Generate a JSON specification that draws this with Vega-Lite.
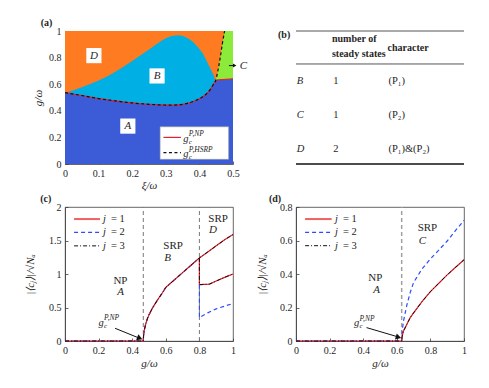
{
"$schema": "https://vega.github.io/schema/vega-lite/v6.json",
"background": "white",
"padding": {"left": 23, "top": 18, "right": 5, "bottom": 5},
"columns": 2,
"spacing": {"row": 43, "column": 63},
"bounds": "flush",
"config": {
  "font": "Liberation Serif",
  "view": {"stroke": null},
  "axis": {"grid": false, "labelFont": "Liberation Serif", "titleFont": "Liberation Serif", "labelFontSize": 10, "titleFontSize": 11, "titleFontWeight": "normal", "titleFontStyle": "italic", "labelColor": "#262626", "titleColor": "#262626", "domainColor": "#404040", "tickColor": "#404040", "tickSize": -3, "labelPadding": 7, "domainWidth": 0.8, "tickWidth": 0.8, "labelFlush": false, "labelOverlap": false, "titleBaseline": "middle", "titleAlign": "center"},
  "text": {"font": "Liberation Serif", "color": "#262626"}
},
"datasets": {
  "aBg": [{"x": 0, "x2": 0.5, "y": 0, "y2": 1}],
  "aCyan": [{"x":0,"y":0.536,"y2":0.536},{"x":0.05,"y":0.578,"y2":0.515},{"x":0.1,"y":0.628,"y2":0.492},{"x":0.15,"y":0.694,"y2":0.474},{"x":0.2,"y":0.775,"y2":0.459},{"x":0.25,"y":0.86,"y2":0.449},{"x":0.285,"y":0.922,"y2":0.444},{"x":0.315,"y":0.96,"y2":0.443},{"x":0.339,"y":0.968,"y2":0.445},{"x":0.364,"y":0.947,"y2":0.456},{"x":0.389,"y":0.897,"y2":0.478},{"x":0.41,"y":0.83,"y2":0.505},{"x":0.425,"y":0.757,"y2":0.538},{"x":0.435,"y":0.705,"y2":0.57},{"x":0.443,"y":0.662,"y2":0.605},{"x":0.448,"y":0.624,"y2":0.624}],
  "aGreen": [{"x":0.448,"y":0.624,"y2":0.624},{"x":0.455,"y":0.7,"y2":0.632},{"x":0.462,"y":0.8,"y2":0.633},{"x":0.468,"y":0.9,"y2":0.634},{"x":0.475,"y":1,"y2":0.635},{"x":0.5,"y":1,"y2":0.641}],
  "aLower": [{"x":0,"y":0.536},{"x":0.05,"y":0.515},{"x":0.1,"y":0.492},{"x":0.15,"y":0.474},{"x":0.2,"y":0.459},{"x":0.25,"y":0.449},{"x":0.285,"y":0.444},{"x":0.315,"y":0.443},{"x":0.339,"y":0.445},{"x":0.364,"y":0.456},{"x":0.389,"y":0.478},{"x":0.41,"y":0.505},{"x":0.425,"y":0.538},{"x":0.435,"y":0.57},{"x":0.443,"y":0.605},{"x":0.448,"y":0.624},{"x":0.455,"y":0.632},{"x":0.47,"y":0.635},{"x":0.5,"y":0.641}],
  "aBlack": [{"x":0,"y":0.536},{"x":0.05,"y":0.515},{"x":0.1,"y":0.492},{"x":0.15,"y":0.474},{"x":0.2,"y":0.459},{"x":0.25,"y":0.449},{"x":0.285,"y":0.444},{"x":0.315,"y":0.443},{"x":0.339,"y":0.445},{"x":0.364,"y":0.456},{"x":0.389,"y":0.478},{"x":0.41,"y":0.505},{"x":0.425,"y":0.538},{"x":0.435,"y":0.57},{"x":0.443,"y":0.605},{"x":0.448,"y":0.624},{"x":0.455,"y":0.7},{"x":0.462,"y":0.8},{"x":0.468,"y":0.9},{"x":0.475,"y":1}],
  "aBoxes": [{"x":0.086,"y":0.815,"t":"D"},{"x":0.274,"y":0.662,"t":"B"},{"x":0.187,"y":0.285,"t":"A"}],
  "aLegBox": [{"x":0.283,"x2":0.487,"y":0.035,"y2":0.28}],
  "aLegLines": [{"x":0.293,"x2":0.345,"y":0.2,"s":"NP"},{"x":0.293,"x2":0.345,"y":0.085,"s":"HSRP"}],
  "aLegText": [{"x":0.352,"y":0.19,"g":"g","sub":"c","sup":"P,NP"},{"x":0.352,"y":0.075,"g":"g","sub":"c","sup":"P,HSRP"}],
  "aArrow": [{"x":0.488,"x2":0.503,"y":0.74}],
  "aArrowHead": [{"x":0.505,"y":0.74}],
  "aC": [{"x":0.52,"y":0.735,"t":"C"}],
  "aLab": [{"x":-0.055,"y":1.06,"t":"(a)"}],
  "bThin": [{"x":0,"x2":1,"y":1},{"x":0,"x2":1,"y":0.752}],
  "bThick": [{"x":0,"x2":1,"y":0}],
  "bItal": [{"x":0.004,"y":0.624,"t":"B"},{"x":0.004,"y":0.368,"t":"C"},{"x":0.004,"y":0.113,"t":"D"}],
  "bNorm": [{"x":0.222,"y":0.624,"t":"1"},{"x":0.222,"y":0.368,"t":"1"},{"x":0.222,"y":0.113,"t":"2"},{"x":0.55,"y":0.624,"t":"(P₁)"},{"x":0.55,"y":0.368,"t":"(P₂)"},{"x":0.55,"y":0.113,"t":"(P₁)&(P₂)"}],
  "bHead": [{"x":0.214,"y":0.938,"t":"number of"},{"x":0.214,"y":0.825,"t":"steady states"},{"x":0.545,"y":0.874,"t":"character"},{"x":-0.107,"y":0.97,"t":"(b)"}],
  "cV": [{"x":0.466,"y":0,"y2":2},{"x":0.8,"y":0,"y2":2}],
  "c13": [{"b":1,"k":0,"x":0,"y":0},{"b":1,"k":1,"x":0.466,"y":0},{"b":1,"k":2,"x":0.468,"y":0.09},{"b":1,"k":3,"x":0.472,"y":0.16},{"b":1,"k":4,"x":0.48,"y":0.25},{"b":1,"k":5,"x":0.49,"y":0.33},{"b":1,"k":6,"x":0.5,"y":0.39},{"b":1,"k":7,"x":0.52,"y":0.49},{"b":1,"k":8,"x":0.55,"y":0.61},{"b":1,"k":9,"x":0.58,"y":0.72},{"b":1,"k":10,"x":0.6,"y":0.8},{"b":1,"k":11,"x":0.65,"y":0.91},{"b":1,"k":12,"x":0.7,"y":1.02},{"b":1,"k":13,"x":0.75,"y":1.13},{"b":1,"k":14,"x":0.8,"y":1.24},{"b":1,"k":15,"x":0.85,"y":1.33},{"b":1,"k":16,"x":0.9,"y":1.42},{"b":1,"k":17,"x":0.95,"y":1.51},{"b":1,"k":18,"x":1,"y":1.59},{"b":2,"k":0,"x":0.8,"y":1.24},{"b":2,"k":1,"x":0.8,"y":0.84},{"b":2,"k":2,"x":0.86,"y":0.85},{"b":2,"k":3,"x":0.9,"y":0.895},{"b":2,"k":4,"x":0.95,"y":0.95},{"b":2,"k":5,"x":1,"y":1.0}],
  "c2": [{"b":1,"k":0,"x":0,"y":0},{"b":1,"k":1,"x":0.466,"y":0},{"b":1,"k":2,"x":0.468,"y":0.09},{"b":1,"k":3,"x":0.472,"y":0.16},{"b":1,"k":4,"x":0.48,"y":0.25},{"b":1,"k":5,"x":0.49,"y":0.33},{"b":1,"k":6,"x":0.5,"y":0.39},{"b":1,"k":7,"x":0.52,"y":0.49},{"b":1,"k":8,"x":0.55,"y":0.61},{"b":1,"k":9,"x":0.58,"y":0.72},{"b":1,"k":10,"x":0.6,"y":0.8},{"b":1,"k":11,"x":0.65,"y":0.91},{"b":1,"k":12,"x":0.7,"y":1.02},{"b":1,"k":13,"x":0.75,"y":1.13},{"b":1,"k":14,"x":0.8,"y":1.24},{"b":2,"k":0,"x":0.8,"y":0.84},{"b":2,"k":1,"x":0.8,"y":0.35},{"b":2,"k":2,"x":0.85,"y":0.42},{"b":2,"k":3,"x":0.9,"y":0.48},{"b":2,"k":4,"x":0.95,"y":0.52},{"b":2,"k":5,"x":1,"y":0.56}],
  "cLeg": [{"x":0.054,"x2":0.208,"y":1.82,"j":"1","a":"j","e":"= 1"},{"x":0.054,"x2":0.208,"y":1.62,"j":"2","a":"j","e":"= 2"},{"x":0.054,"x2":0.208,"y":1.42,"j":"3","a":"j","e":"= 3"}],
  "cNorm": [{"x":0.288,"y":0.895,"t":"NP"},{"x":0.585,"y":1.42,"t":"SRP"},{"x":0.853,"y":1.82,"t":"SRP"}],
  "cItal": [{"x":0.311,"y":0.73,"t":"A"},{"x":0.591,"y":1.24,"t":"B"},{"x":0.857,"y":1.65,"t":"D"}],
  "cArrow": [{"x":0.298,"y":0.19,"x2":0.44,"y2":0.045}],
  "cArrowHead": [{"x":0.445,"y":0.04}],
  "cG": [{"x":0.2,"y":0.27,"g":"g","sub":"c","sup":"P,NP"}],
  "cLab": [{"x":-0.115,"y":2.12,"t":"(c)"}],
  "dV": [{"x":0.629,"y":0,"y2":0.8}],
  "d13": [{"x":0,"y":0},{"x":0.629,"y":0},{"x":0.632,"y":0.03},{"x":0.64,"y":0.06},{"x":0.66,"y":0.1},{"x":0.68,"y":0.14},{"x":0.7,"y":0.168},{"x":0.75,"y":0.235},{"x":0.8,"y":0.295},{"x":0.85,"y":0.345},{"x":0.9,"y":0.395},{"x":0.95,"y":0.44},{"x":1,"y":0.485}],
  "d2": [{"x":0,"y":0},{"x":0.629,"y":0},{"x":0.632,"y":0.06},{"x":0.64,"y":0.12},{"x":0.66,"y":0.215},{"x":0.68,"y":0.29},{"x":0.7,"y":0.35},{"x":0.75,"y":0.43},{"x":0.8,"y":0.49},{"x":0.85,"y":0.543},{"x":0.9,"y":0.597},{"x":0.95,"y":0.66},{"x":1,"y":0.72}],
  "dLeg": [{"x":0.054,"x2":0.212,"y":0.728,"j":"1","a":"j","e":"= 1"},{"x":0.054,"x2":0.212,"y":0.649,"j":"2","a":"j","e":"= 2"},{"x":0.054,"x2":0.212,"y":0.569,"j":"3","a":"j","e":"= 3"}],
  "dNorm": [{"x":0.43,"y":0.374,"t":"NP"},{"x":0.724,"y":0.673,"t":"SRP"}],
  "dItal": [{"x":0.46,"y":0.306,"t":"A"},{"x":0.73,"y":0.6,"t":"C"}],
  "dArrow": [{"x":0.42,"y":0.08,"x2":0.606,"y2":0.025}],
  "dArrowHead": [{"x":0.61,"y":0.022}],
  "dG": [{"x":0.345,"y":0.106,"g":"g","sub":"c","sup":"P,NP"}],
  "dLab": [{"x":-0.125,"y":0.85,"t":"(d)"}]
},
"concat": [
  {
   "width": 168, "height": 133,
   "encoding": {
     "x": {"field": "x", "type": "quantitative", "scale": {"domain": [0, 0.5], "nice": false}, "axis": {"title": "ξ/ω", "values": [0, 0.1, 0.2, 0.3, 0.4, 0.5], "format": "~g", "titleX": 84, "titleY": 21}},
     "y": {"field": "y", "type": "quantitative", "scale": {"domain": [0, 1], "nice": false}, "axis": {"title": "g/ω", "values": [0, 0.2, 0.4, 0.6, 0.8, 1], "format": "~g", "titleX": -27, "titleY": 66.5}}
   },
   "layer": [
    {"data": {"name": "aBg"}, "mark": {"type": "rect", "color": "#FF7B22"}, "encoding": {"x2": {"field": "x2"}, "y2": {"field": "y2"}}},
    {"data": {"name": "aCyan"}, "mark": {"type": "area", "color": "#00B0E4", "opacity": 1, "interpolate": "monotone"}, "encoding": {"y2": {"field": "y2"}}},
    {"data": {"name": "aGreen"}, "mark": {"type": "area", "color": "#8CEB3A", "opacity": 1}, "encoding": {"y2": {"field": "y2"}}},
    {"data": {"name": "aLower"}, "mark": {"type": "area", "color": "#3B5BD7", "opacity": 1, "interpolate": "monotone"}, "encoding": {"y2": {"datum": 0}}},
    {"data": {"name": "aLower"}, "mark": {"type": "line", "color": "#E8202A", "strokeWidth": 1.2, "interpolate": "monotone"}},
    {"data": {"name": "aBlack"}, "mark": {"type": "line", "color": "#111111", "strokeWidth": 1.2, "strokeDash": [3, 2.5], "interpolate": "monotone"}},
    {"data": {"name": "aBoxes"}, "mark": {"type": "square", "size": 230, "color": "white", "opacity": 1, "filled": true}},
    {"data": {"name": "aBoxes"}, "mark": {"type": "text", "fontStyle": "italic", "fontSize": 11, "align": "center", "baseline": "middle"}, "encoding": {"text": {"field": "t"}}},
    {"data": {"name": "aLegBox"}, "mark": {"type": "rect", "fill": "white", "stroke": "#999999", "strokeWidth": 0.6}, "encoding": {"x2": {"field": "x2"}, "y2": {"field": "y2"}}},
    {"data": {"name": "aLegLines"}, "transform": [{"filter": "datum.s == 'NP'"}], "mark": {"type": "rule", "color": "#E8202A", "strokeWidth": 1.2}, "encoding": {"x2": {"field": "x2"}}},
    {"data": {"name": "aLegLines"}, "transform": [{"filter": "datum.s == 'HSRP'"}], "mark": {"type": "rule", "color": "#111111", "strokeWidth": 1.2, "strokeDash": [3, 2.5]}, "encoding": {"x2": {"field": "x2"}}},
    {"data": {"name": "aLegText"}, "mark": {"type": "text", "fontStyle": "italic", "fontSize": 10.5, "align": "left", "baseline": "middle"}, "encoding": {"text": {"field": "g"}}},
    {"data": {"name": "aLegText"}, "mark": {"type": "text", "fontStyle": "italic", "fontSize": 7, "align": "left", "baseline": "middle", "dx": 5.5, "dy": 3}, "encoding": {"text": {"field": "sub"}}},
    {"data": {"name": "aLegText"}, "mark": {"type": "text", "fontStyle": "italic", "fontSize": 7.5, "align": "left", "baseline": "middle", "dx": 5.5, "dy": -4.5}, "encoding": {"text": {"field": "sup"}}},
    {"data": {"name": "aArrow"}, "mark": {"type": "rule", "color": "#111111", "strokeWidth": 1}, "encoding": {"x2": {"field": "x2"}}},
    {"data": {"name": "aArrowHead"}, "mark": {"type": "point", "shape": "triangle-right", "size": 16, "filled": true, "color": "#111111", "opacity": 1}},
    {"data": {"name": "aC"}, "mark": {"type": "text", "fontStyle": "italic", "fontSize": 11, "align": "left", "baseline": "middle"}, "encoding": {"text": {"field": "t"}}},
    {"data": {"name": "aLab"}, "mark": {"type": "text", "fontWeight": "bold", "fontSize": 10, "align": "center", "baseline": "middle"}, "encoding": {"text": {"field": "t"}}}
   ]
  },
  {
   "width": 168, "height": 133,
   "encoding": {
     "x": {"field": "x", "type": "quantitative", "scale": {"domain": [0, 1], "nice": false}, "axis": null},
     "y": {"field": "y", "type": "quantitative", "scale": {"domain": [0, 1], "nice": false}, "axis": null}
   },
   "layer": [
    {"data": {"name": "bThin"}, "mark": {"type": "rule", "color": "#555555", "strokeWidth": 1}, "encoding": {"x2": {"field": "x2"}}},
    {"data": {"name": "bThick"}, "mark": {"type": "rule", "color": "#111111", "strokeWidth": 1.6}, "encoding": {"x2": {"field": "x2"}}},
    {"data": {"name": "bItal"}, "mark": {"type": "text", "fontStyle": "italic", "fontSize": 10.5, "align": "left", "baseline": "middle"}, "encoding": {"text": {"field": "t"}}},
    {"data": {"name": "bNorm"}, "mark": {"type": "text", "fontSize": 10.5, "align": "left", "baseline": "middle"}, "encoding": {"text": {"field": "t"}}},
    {"data": {"name": "bHead"}, "mark": {"type": "text", "fontSize": 10, "fontWeight": "bold", "align": "left", "baseline": "middle"}, "encoding": {"text": {"field": "t"}}}
   ]
  },
  {
   "width": 168, "height": 134,
   "view": {"stroke": "#404040", "strokeWidth": 0.8},
   "encoding": {
     "x": {"field": "x", "type": "quantitative", "scale": {"domain": [0, 1], "nice": false}, "axis": {"title": "g/ω", "values": [0, 0.2, 0.4, 0.6, 0.8, 1], "format": "~g", "titleX": 84, "titleY": 22}},
     "y": {"field": "y", "type": "quantitative", "scale": {"domain": [0, 2], "nice": false}, "axis": {"title": "|⟨cⱼ⟩|/√Nₐ", "values": [0, 0.5, 1, 1.5, 2], "format": "~g", "titleX": -35, "titleY": 67}}
   },
   "layer": [
    {"data": {"name": "cV"}, "mark": {"type": "rule", "color": "#777777", "strokeWidth": 1, "strokeDash": [4, 3]}, "encoding": {"y2": {"field": "y2"}}},
    {"data": {"name": "c2"}, "mark": {"type": "line", "color": "#2B4CFF", "strokeWidth": 1.2, "strokeDash": [4, 3]}, "encoding": {"detail": {"field": "b"}, "order": {"field": "k"}}},
    {"data": {"name": "c13"}, "mark": {"type": "line", "color": "#E8202A", "strokeWidth": 1.2}, "encoding": {"detail": {"field": "b"}, "order": {"field": "k"}}},
    {"data": {"name": "c13"}, "mark": {"type": "line", "color": "#111111", "strokeWidth": 1, "strokeDash": [4, 2, 1, 2]}, "encoding": {"detail": {"field": "b"}, "order": {"field": "k"}}},
    {"data": {"name": "cLeg"}, "transform": [{"filter": "datum.j == '1'"}], "mark": {"type": "rule", "color": "#F06060", "strokeWidth": 2}, "encoding": {"x2": {"field": "x2"}}},
    {"data": {"name": "cLeg"}, "transform": [{"filter": "datum.j == '2'"}], "mark": {"type": "rule", "color": "#2B4CFF", "strokeWidth": 1.2, "strokeDash": [4, 3]}, "encoding": {"x2": {"field": "x2"}}},
    {"data": {"name": "cLeg"}, "transform": [{"filter": "datum.j == '3'"}], "mark": {"type": "rule", "color": "#111111", "strokeWidth": 1, "strokeDash": [4, 2, 1, 2]}, "encoding": {"x2": {"field": "x2"}}},
    {"data": {"name": "cLeg"}, "mark": {"type": "text", "fontStyle": "italic", "fontSize": 10.5, "align": "left", "baseline": "middle", "dx": 29}, "encoding": {"text": {"field": "a"}}},
    {"data": {"name": "cLeg"}, "mark": {"type": "text", "fontSize": 10.5, "align": "left", "baseline": "middle", "dx": 37}, "encoding": {"text": {"field": "e"}}},
    {"data": {"name": "cNorm"}, "mark": {"type": "text", "fontSize": 11, "align": "left", "baseline": "middle"}, "encoding": {"text": {"field": "t"}}},
    {"data": {"name": "cItal"}, "mark": {"type": "text", "fontSize": 11, "fontStyle": "italic", "align": "left", "baseline": "middle"}, "encoding": {"text": {"field": "t"}}},
    {"data": {"name": "cArrow"}, "mark": {"type": "rule", "color": "#111111", "strokeWidth": 1}, "encoding": {"x2": {"field": "x2"}, "y2": {"field": "y2"}}},
    {"data": {"name": "cArrowHead"}, "mark": {"type": "point", "shape": "triangle-right", "size": 40, "angle": 22, "filled": true, "color": "#111111", "opacity": 1}},
    {"data": {"name": "cG"}, "mark": {"type": "text", "fontStyle": "italic", "fontSize": 10.5, "align": "left", "baseline": "middle"}, "encoding": {"text": {"field": "g"}}},
    {"data": {"name": "cG"}, "mark": {"type": "text", "fontStyle": "italic", "fontSize": 7, "align": "left", "baseline": "middle", "dx": 5.5, "dy": 3}, "encoding": {"text": {"field": "sub"}}},
    {"data": {"name": "cG"}, "mark": {"type": "text", "fontStyle": "italic", "fontSize": 7.5, "align": "left", "baseline": "middle", "dx": 5.5, "dy": -4.5}, "encoding": {"text": {"field": "sup"}}},
    {"data": {"name": "cLab"}, "mark": {"type": "text", "fontWeight": "bold", "fontSize": 10, "align": "center", "baseline": "middle"}, "encoding": {"text": {"field": "t"}}}
   ]
  },
  {
   "width": 168, "height": 134,
   "view": {"stroke": "#404040", "strokeWidth": 0.8},
   "encoding": {
     "x": {"field": "x", "type": "quantitative", "scale": {"domain": [0, 1], "nice": false}, "axis": {"title": "g/ω", "values": [0, 0.2, 0.4, 0.6, 0.8, 1], "format": "~g", "titleX": 84, "titleY": 22}},
     "y": {"field": "y", "type": "quantitative", "scale": {"domain": [0, 0.8], "nice": false}, "axis": {"title": "|⟨cⱼ⟩|/√Nₐ", "values": [0, 0.2, 0.4, 0.6, 0.8], "format": "~g", "titleX": -34, "titleY": 67}}
   },
   "layer": [
    {"data": {"name": "dV"}, "mark": {"type": "rule", "color": "#A0A0A0", "strokeWidth": 1.5, "strokeDash": [4, 3]}, "encoding": {"y2": {"field": "y2"}}},
    {"data": {"name": "d2"}, "mark": {"type": "line", "color": "#2B4CFF", "strokeWidth": 1.2, "strokeDash": [4, 3]}},
    {"data": {"name": "d13"}, "mark": {"type": "line", "color": "#E8202A", "strokeWidth": 1.2}},
    {"data": {"name": "d13"}, "mark": {"type": "line", "color": "#111111", "strokeWidth": 1, "strokeDash": [4, 2, 1, 2]}},
    {"data": {"name": "dLeg"}, "transform": [{"filter": "datum.j == '1'"}], "mark": {"type": "rule", "color": "#F06060", "strokeWidth": 2}, "encoding": {"x2": {"field": "x2"}}},
    {"data": {"name": "dLeg"}, "transform": [{"filter": "datum.j == '2'"}], "mark": {"type": "rule", "color": "#2B4CFF", "strokeWidth": 1.2, "strokeDash": [4, 3]}, "encoding": {"x2": {"field": "x2"}}},
    {"data": {"name": "dLeg"}, "transform": [{"filter": "datum.j == '3'"}], "mark": {"type": "rule", "color": "#111111", "strokeWidth": 1, "strokeDash": [4, 2, 1, 2]}, "encoding": {"x2": {"field": "x2"}}},
    {"data": {"name": "dLeg"}, "mark": {"type": "text", "fontStyle": "italic", "fontSize": 10.5, "align": "left", "baseline": "middle", "dx": 30}, "encoding": {"text": {"field": "a"}}},
    {"data": {"name": "dLeg"}, "mark": {"type": "text", "fontSize": 10.5, "align": "left", "baseline": "middle", "dx": 38}, "encoding": {"text": {"field": "e"}}},
    {"data": {"name": "dNorm"}, "mark": {"type": "text", "fontSize": 11, "align": "left", "baseline": "middle"}, "encoding": {"text": {"field": "t"}}},
    {"data": {"name": "dItal"}, "mark": {"type": "text", "fontSize": 11, "fontStyle": "italic", "align": "left", "baseline": "middle"}, "encoding": {"text": {"field": "t"}}},
    {"data": {"name": "dArrow"}, "mark": {"type": "rule", "color": "#111111", "strokeWidth": 1}, "encoding": {"x2": {"field": "x2"}, "y2": {"field": "y2"}}},
    {"data": {"name": "dArrowHead"}, "mark": {"type": "point", "shape": "triangle-right", "size": 40, "angle": 17, "filled": true, "color": "#111111", "opacity": 1}},
    {"data": {"name": "dG"}, "mark": {"type": "text", "fontStyle": "italic", "fontSize": 10.5, "align": "left", "baseline": "middle"}, "encoding": {"text": {"field": "g"}}},
    {"data": {"name": "dG"}, "mark": {"type": "text", "fontStyle": "italic", "fontSize": 7, "align": "left", "baseline": "middle", "dx": 5.5, "dy": 3}, "encoding": {"text": {"field": "sub"}}},
    {"data": {"name": "dG"}, "mark": {"type": "text", "fontStyle": "italic", "fontSize": 7.5, "align": "left", "baseline": "middle", "dx": 5.5, "dy": -4.5}, "encoding": {"text": {"field": "sup"}}},
    {"data": {"name": "dLab"}, "mark": {"type": "text", "fontWeight": "bold", "fontSize": 10, "align": "center", "baseline": "middle"}, "encoding": {"text": {"field": "t"}}}
   ]
  }
]
}
